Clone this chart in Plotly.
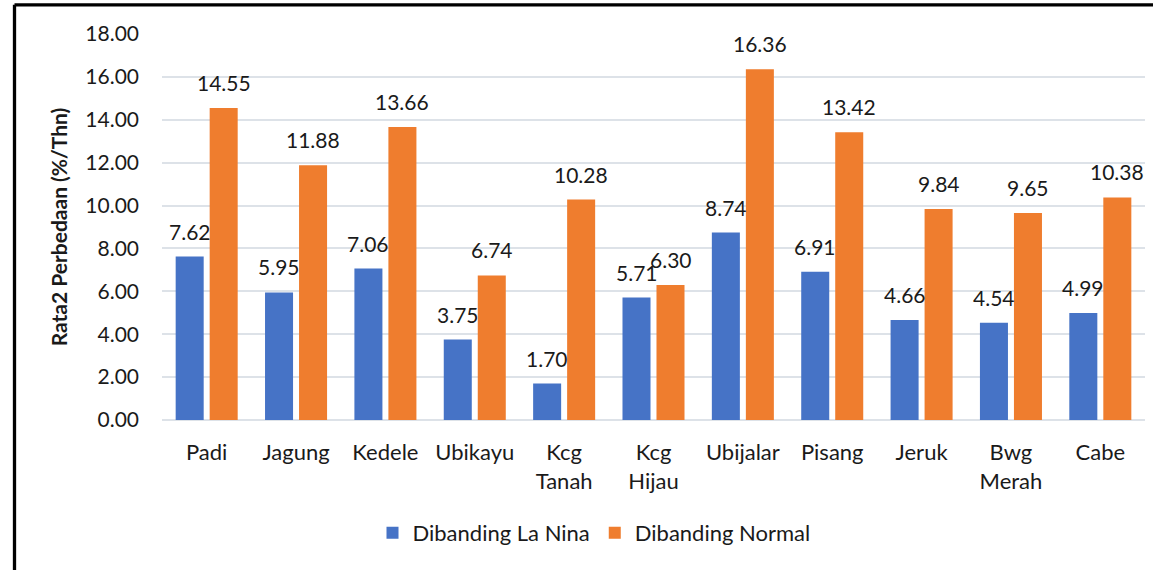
import plotly.graph_objects as go

# Commodities (x categories) and average difference per year for each comparison
categories = ["Padi", "Jagung", "Kedele", "Ubikayu", "Kcg<br>Tanah", "Kcg<br>Hijau",
              "Ubijalar", "Pisang", "Jeruk", "Bwg<br>Merah", "Cabe"]
la_nina = [7.62, 5.95, 7.06, 3.75, 1.70, 5.71, 8.74, 6.91, 4.66, 4.54, 4.99]
normal = [14.55, 11.88, 13.66, 6.74, 10.28, 6.30, 16.36, 13.42, 9.84, 9.65, 10.38]
y_ticks = [0, 2, 4, 6, 8, 10, 12, 14, 16, 18]

W, H = 1153, 570
M_L, M_R, M_T, M_B = 162, 8, 34, 150
FONT = "Lato"
TXT = "#1a1a1a"
BLUE = "#4673c6"
ORANGE = "#ef7d2e"

BARGAP = 0.239
GROUPGAP = 0.176
# centre offset of each bar inside its category slot (category units)
slot = (1 - BARGAP) / 2
offset = slot / 2

fig = go.Figure()
fig.add_trace(go.Bar(x=list(range(len(categories))), y=la_nina, name="Dibanding La Nina",
                     marker=dict(color=BLUE, line=dict(width=0))))
fig.add_trace(go.Bar(x=list(range(len(categories))), y=normal, name="Dibanding Normal",
                     marker=dict(color=ORANGE, line=dict(width=0))))

# value labels above each bar
annotations = []
for series, sign in ((la_nina, -1), (normal, 1)):
    for i, v in enumerate(series):
        annotations.append(dict(x=i + sign * offset, y=v, xref="x", yref="y",
                                text=f"{v:.2f}", showarrow=False, yanchor="middle",
                                yshift=25.5, font=dict(family=FONT, size=21, color=TXT)))

# frame lines around the chart area (left and top edges)
plot_w = W - M_L - M_R
plot_h = H - M_T - M_B
fx = (14.5 - M_L) / plot_w
fy_top = (H - M_B - 4.8) / plot_h
fy_bot = (H - M_B - H - 5) / plot_h
shapes = [
    dict(type="line", xref="paper", yref="paper", x0=fx, x1=fx, y0=fy_bot, y1=fy_top,
         line=dict(color="black", width=3.3)),
    dict(type="line", xref="paper", yref="paper", x0=fx, x1=1.05, y0=fy_top, y1=fy_top,
         line=dict(color="black", width=3.3)),
]

fig.update_layout(
    width=W, height=H,
    margin=dict(l=M_L, r=M_R, t=M_T, b=M_B, pad=0),
    paper_bgcolor="white", plot_bgcolor="white",
    font=dict(family=FONT, size=21, color=TXT),
    barmode="group", bargap=BARGAP, bargroupgap=GROUPGAP,
    showlegend=True,
    legend=dict(orientation="h", x=(594 - M_L) / plot_w, xanchor="center",
                y=(H - M_B - 533) / plot_h, yanchor="middle",
                font=dict(family=FONT, size=22, color=TXT),
                itemwidth=30, bgcolor="rgba(0,0,0,0)"),
    annotations=annotations,
    shapes=shapes,
)

fig.update_xaxes(
    tickmode="array", tickvals=list(range(len(categories))), ticktext=categories,
    range=[-0.5, len(categories) - 0.5],
    showgrid=False, showline=False, zeroline=False, ticks="",
    ticklabelstandoff=17,
    tickfont=dict(family=FONT, size=22, color=TXT),
)
fig.update_yaxes(
    range=[0, 18], tickmode="array", tickvals=y_ticks,
    ticktext=[f"{t:.2f}" for t in y_ticks],
    showgrid=True, gridcolor="#dde2e8", gridwidth=1.6,
    zeroline=True, zerolinecolor="#dde2e8", zerolinewidth=1.6,
    showline=False, ticks="", ticklabelstandoff=22,
    tickfont=dict(family=FONT, size=21, color=TXT),
    title=dict(text="<b>Rata2 Perbedaan (%/Thn)</b>", standoff=11,
               font=dict(family=FONT, size=21, color=TXT)),
)

fig.write_html("out.html")
